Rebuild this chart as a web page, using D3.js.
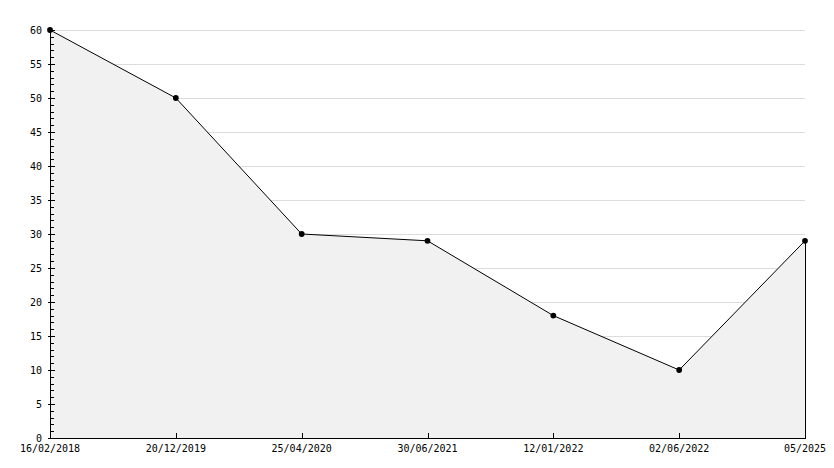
<!DOCTYPE html>
<html><head><meta charset="utf-8">
<script src="https://cdn.jsdelivr.net/npm/d3@7/dist/d3.min.js"></script>
<style>
html,body{margin:0;padding:0;background:#fff;}
text{font-family:"DejaVu Sans Mono",monospace;font-size:10px;fill:#000;}
</style></head>
<body><svg id="c" width="834" height="468"></svg>
<script>
const categories = ["16/02/2018","20/12/2019","25/04/2020","30/06/2021","12/01/2022","02/06/2022","05/2025"];
const values = [60,50,30,29,18,10,29];
const yMajorTicks = [0,5,10,15,20,25,30,35,40,45,50,55,60];

(function(){
const svg = d3.select("#c");
const pLeft = 50, pRight = 805, pTop = 30, pBottom = 438;
const x = d3.scalePoint().domain(categories).range([pLeft, pRight]);
const y = d3.scaleLinear().domain([0, 60]).range([pBottom, pTop]);

// grid
svg.append("g").selectAll("line").data(yMajorTicks.filter(d=>d>0)).join("line")
  .attr("x1", pLeft).attr("x2", pRight)
  .attr("y1", d => Math.round(y(d)) + 0.5).attr("y2", d => Math.round(y(d)) + 0.5)
  .attr("stroke", "#dcdcdc").attr("stroke-width", 1);

const pts = categories.map((c,i)=>({c, v: values[i]}));
// area
const area = d3.area().x(d => x(d.c)).y0(y(0)).y1(d => y(d.v));
svg.append("path").datum(pts).attr("d", area).attr("fill", "#f1f1f1").attr("stroke", "none");
// right edge of area
const last = pts[pts.length-1];
svg.append("line").attr("x1", x(last.c)+0.5).attr("x2", x(last.c)+0.5)
  .attr("y1", y(last.v)).attr("y2", y(0)).attr("stroke", "#000");
// line
const line = d3.line().x(d => x(d.c)).y(d => y(d.v));
svg.append("path").datum(pts).attr("d", line).attr("fill", "none").attr("stroke", "#000").attr("stroke-width", 1);

// y axis
const yAxis = svg.append("g");
yAxis.append("line").attr("x1", pLeft+0.5).attr("x2", pLeft+0.5).attr("y1", pTop).attr("y2", pBottom).attr("stroke", "#000");
const minor = d3.range(0, 61, 1);
yAxis.selectAll("line.minor").data(minor).join("line").attr("class","minor")
  .attr("x1", d => d % 5 === 0 ? pLeft - 2 : pLeft)
  .attr("x2", d => d % 5 === 0 ? pLeft + 5 : pLeft + 4)
  .attr("y1", d => Math.round(y(d)) + 0.5).attr("y2", d => Math.round(y(d)) + 0.5)
  .attr("stroke", "#000");
yAxis.selectAll("text").data(yMajorTicks).join("text")
  .attr("x", pLeft - 8).attr("y", d => y(d)).attr("dy", "0.35em")
  .attr("text-anchor", "end").text(d => d);

// x axis
const xAxis = svg.append("g");
xAxis.append("line").attr("x1", pLeft).attr("x2", pRight+1).attr("y1", pBottom+0.5).attr("y2", pBottom+0.5).attr("stroke", "#000");
xAxis.selectAll("line.t").data(categories).join("line").attr("class","t")
  .attr("x1", d => Math.round(x(d))+0.5).attr("x2", d => Math.round(x(d))+0.5)
  .attr("y1", pBottom - 5).attr("y2", pBottom).attr("stroke", "#000");
xAxis.selectAll("text").data(categories).join("text")
  .attr("x", d => x(d)).attr("y", 452).attr("text-anchor", "middle").text(d => d);

// markers
svg.append("g").selectAll("path").data(pts).join("path")
  .attr("transform", d => `translate(${x(d.c)},${y(d.v)})`)
  .attr("d", d3.symbol().type(d3.symbolCircle).size(26)).attr("fill", "#000");
})();
</script></body></html>
